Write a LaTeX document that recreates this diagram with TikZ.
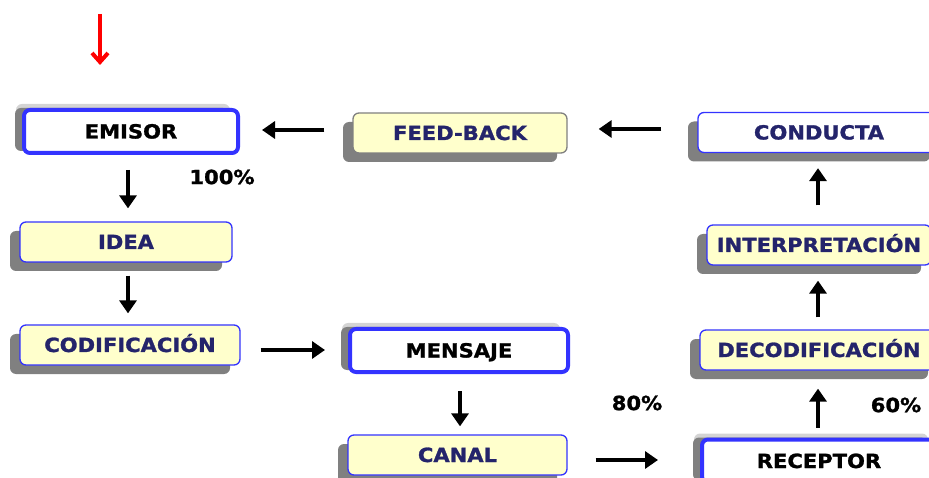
\documentclass[tikz,border=0pt]{standalone}
\usepackage{fontspec}
\setmainfont{DejaVu Sans}[FakeStretch=1.08, BoldFeatures={FakeBold=1.3}]
\usetikzlibrary{shadows,arrows.meta}
\definecolor{navy}{RGB}{36,36,107}
\definecolor{bblue}{RGB}{51,51,255}
\definecolor{ylw}{RGB}{255,255,204}
\definecolor{shdark}{RGB}{128,128,128}
\definecolor{shlight}{RGB}{212,212,212}
\tikzset{
  base/.style={rounded corners=6pt, inner sep=0pt, font=\fontsize{19.5}{21}\selectfont\bfseries, text height=14pt, text depth=0pt},
  ybox/.style={base, fill=ylw, draw=bblue, line width=1.3pt, text=navy, minimum height=40pt,
    general shadow={shadow xshift=-10pt, shadow yshift=-9pt, fill=shdark}},
  wbox/.style={base, fill=white, draw=bblue, line width=1.3pt, text=navy, minimum height=40pt,
    general shadow={shadow xshift=-10pt, shadow yshift=-9pt, fill=shdark}},
  tbox/.style={base, fill=white, draw=bblue, line width=4pt, text=black, minimum height=43pt,
    general shadow={shadow xshift=-8pt, shadow yshift=6pt, fill=shlight},
    general shadow={shadow xshift=-9pt, shadow yshift=2pt, fill=shdark}},
  arr/.style={line width=4.5pt, -{Triangle[width=17pt,length=13pt]}},
  pct/.style={font=\fontsize{19.5}{21}\selectfont\bfseries, text=black, inner sep=0pt}
}
\begin{document}
\begin{tikzpicture}[x=1pt,y=1pt]
\useasboundingbox (0,0) rectangle (929,477);
% nodes
\node[tbox, minimum width=214pt] (em) at (131,345.5) {EMISOR};
\node[ybox, draw=shdark, minimum width=214pt] (fb) at (460,344) {FEED-BACK};
\node[wbox, minimum width=242pt] (co) at (819,344.5) {CONDUCTA};
\node[ybox, minimum width=212pt] (id) at (126,235) {IDEA};
\node[ybox, minimum width=220pt] (cd) at (130,132) {CODIFICACIÓN};
\node[tbox, minimum width=218pt] (me) at (459,126.5) {MENSAJE};
\node[ybox, minimum width=219pt] (ca) at (457.5,22) {CANAL};
\node[ybox, minimum width=224pt] (in) at (819,232) {INTERPRETACIÓN};
\node[ybox, minimum width=238pt] (de) at (819,127) {DECODIFICACIÓN};
\node[tbox, minimum width=234pt] (re) at (819,16) {RECEPTOR};
% percentages
\node[pct] (p100) at (222,300) {100\%};
\node[pct] (p80) at (637,74) {80\%};
\node[pct] (p60) at (896,72) {60\%};
% red arrow
\coordinate (rs) at (100,463);
\coordinate (re2) at (100,412);
\draw[red, line width=4.5pt, -{Straight Barb[width=16pt,length=9pt,line width=4pt]}] (rs) -- (re2);
% connectors
\draw[arr, shorten <=28pt, shorten >=22pt] (fb.west |- 0,347) -- (em.east |- 0,347);
\draw[arr, shorten <=36pt, shorten >=31pt] (co.west |- 0,348) -- (fb.east |- 0,348);
\draw[arr, shorten <=15pt, shorten >=13pt] (em.south -| 128,0) -- (id.north -| 128,0);
\draw[arr, shorten <=13pt, shorten >=11pt] (id.south -| 128,0) -- (cd.north -| 128,0);
\draw[arr, shorten <=20pt, shorten >=23pt] (cd.east |- 0,127) -- (me.west |- 0,127);
\draw[arr, shorten <=17pt, shorten >=8pt] (me.south -| 460,0) -- (ca.north -| 460,0);
\draw[arr, shorten <=28pt, shorten >=42pt] (ca.east |- 0,17) -- (re.west |- 0,17);
\draw[arr, shorten <=10pt, shorten >=18pt] (re.north -| 818,0) -- (de.south -| 818,0);
\draw[arr, shorten <=12pt, shorten >=15pt] (de.north -| 818,0) -- (in.south -| 818,0);
\draw[arr, shorten <=19pt, shorten >=15pt] (in.north -| 818,0) -- (co.south -| 818,0);
\end{tikzpicture}
\end{document}
